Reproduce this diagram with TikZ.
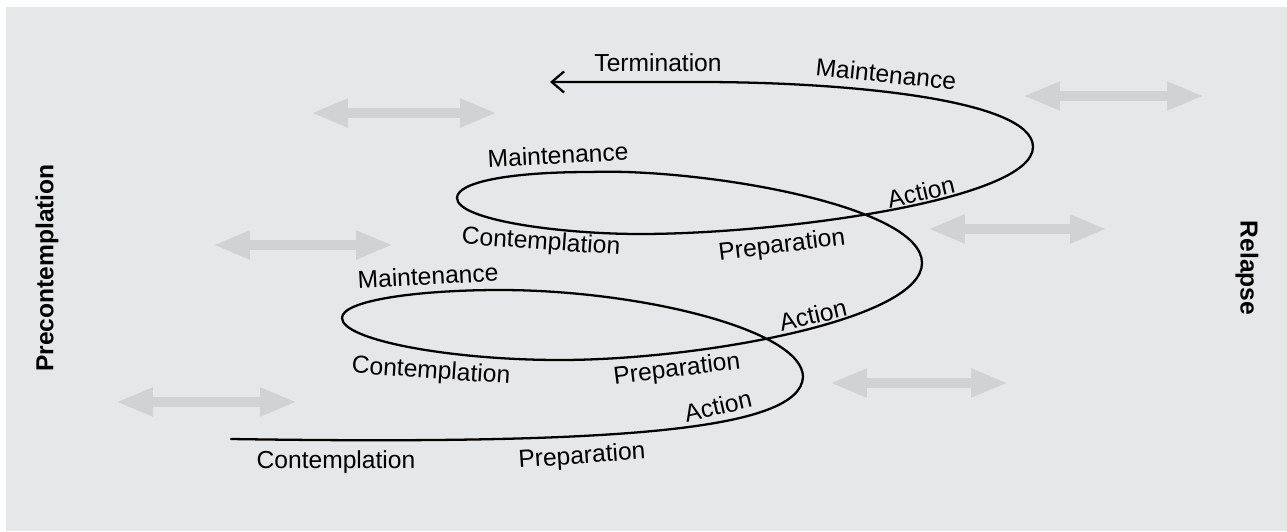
\documentclass[tikz,border=0pt]{standalone}
\usepackage{fontspec}
\setmainfont{Liberation Sans}
\usetikzlibrary{arrows.meta}
\definecolor{panelgray}{HTML}{E6E7E8}
\definecolor{shadegray}{HTML}{D1D2D4}
\begin{document}
\begin{tikzpicture}[x=0.02cm, y=-0.02cm,
  spiral line/.style={line width=1.3pt, line cap=round},
  side arrow/.style={shadegray, line width=5.7pt, {Triangle[length=21pt,width=15pt]}-{Triangle[length=21pt,width=15pt]}},
  stage node/.style={font=\fontsize{14}{16}\selectfont, inner sep=0pt},
  side node/.style={font=\bfseries\fontsize{14}{16}\selectfont, inner sep=0pt}]
\useasboundingbox (0,0) rectangle (1287,531);
\fill[panelgray] (6,7) rectangle (1287,531);
% grey double arrows
\foreach \xa/\xb/\ya in {311/497/113, 1023/1204/96, 213/393/245, 928/1107/229, 116/297/402, 830/1008/383}
  \draw[side arrow] (\xa,\ya) -- (\xb,\ya);
% spiral
\draw[spiral line, -{Straight Barb[length=7pt,width=12pt]}] (231,439)
  .. controls (620,445) and (800,430) .. (803,377)
  .. controls (803,330) and (640,290) .. (500,290)
  .. controls (420,290) and (342,300) .. (342,318)
  .. controls (342,340) and (450,360) .. (560,360)
  .. controls (700,360) and (922,320) .. (922,263)
  .. controls (922,205) and (700,168) .. (590,172)
  .. controls (510,172) and (457,182) .. (457,198)
  .. controls (457,220) and (560,234) .. (640,234)
  .. controls (780,234) and (1033,200) .. (1033,147)
  .. controls (1033,100) and (850,82) .. (700,82)
  -- (550,82);
\begin{scope}[every node/.style={stage node}]
\node (term) at (658,63) {Termination};
\node[rotate=-6] (maint3) at (886,74) {Maintenance};
\node[rotate=3] (maint2) at (558,155) {Maintenance};
\node[rotate=13] (act3) at (921,192) {Action};
\node[rotate=-4] (cont3) at (541,243) {Contemplation};
\node[rotate=7] (prep3) at (782,246) {Preparation};
\node[rotate=3] (maint1) at (428,276) {Maintenance};
\node[rotate=13] (act2) at (813,315) {Action};
\node[rotate=-4] (cont2) at (431,372) {Contemplation};
\node[rotate=7] (prep2) at (677,370) {Preparation};
\node[rotate=13] (act1) at (718,406) {Action};
\node (cont1) at (336,462) {Contemplation};
\node[rotate=4] (prep1) at (582,457) {Preparation};
\end{scope}
\node[side node, rotate=90] (precon) at (47,268) {Precontemplation};
\node[side node, rotate=-90] (relapse) at (1247,268) {Relapse};
\end{tikzpicture}
\end{document}
